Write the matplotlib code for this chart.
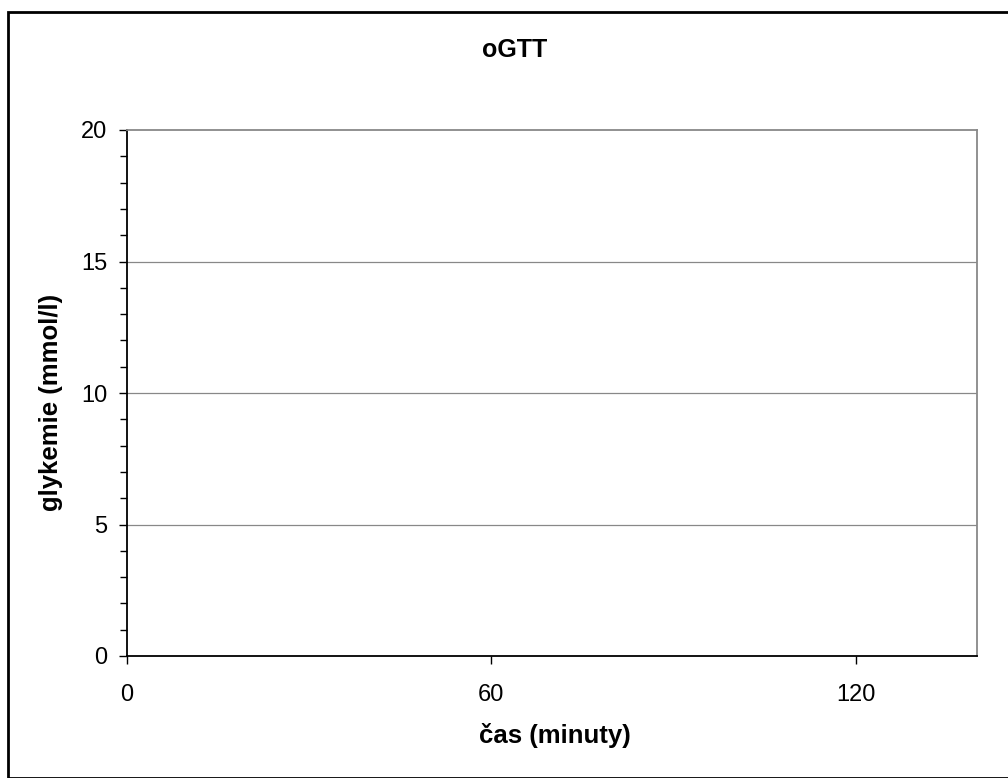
import matplotlib
matplotlib.use("Agg")
import matplotlib.pyplot as plt
from matplotlib.patches import Rectangle
from matplotlib.ticker import MultipleLocator

plt.rcParams['font.family'] = ['Liberation Sans', 'DejaVu Sans']

# empty chart: only the axes ranges and tick values
title = "oGTT"
x_label = "čas (minuty)"
y_label = "glykemie (mmol/l)"
x_ticks = [0, 60, 120]
x_limits = [0, 140]
y_ticks = [0, 5, 10, 15, 20]
y_limits = [0, 20]

W, H = 1008, 778
fig = plt.figure(figsize=(W / 100, H / 100), dpi=100)
ax = fig.add_axes([127 / W, 1 - 656 / H, 850 / W, 526 / H])

ax.set_xlim(x_limits)
ax.set_ylim(y_limits)
ax.set_xticks(x_ticks)
ax.set_yticks(y_ticks)
ax.yaxis.set_minor_locator(MultipleLocator(1))

for v in y_ticks[1:-1]:
    ax.axhline(v, color="#888888", linewidth=0.9, zorder=0)

ax.spines['left'].set_color('black')
ax.spines['bottom'].set_color('black')
ax.spines['left'].set_linewidth(1.3)
ax.spines['bottom'].set_linewidth(1.3)
ax.spines['top'].set_color('#888888')
ax.spines['right'].set_color('#888888')
ax.spines['top'].set_linewidth(1.3)
ax.spines['right'].set_linewidth(1.3)

ax.tick_params(axis='both', which='major', length=6, width=1, labelsize=17, direction='out')
ax.tick_params(axis='y', which='minor', length=5, width=1, direction='out')
ax.tick_params(axis='x', pad=14)
ax.tick_params(axis='y', pad=8)

# titles placed in figure coords
fig.text(515 / W, 1 - 50 / H, title, fontsize=18, fontweight='bold',
         ha='center', va='center')
fig.text(555 / W, 1 - 735 / H, x_label, fontsize=18.5, fontweight='bold',
         ha='center', va='center')
fig.text(51 / W, 1 - 402 / H, y_label, fontsize=18.5, fontweight='bold',
         ha='center', va='center', rotation=90)

# outer frame of the chart area
fig.patches.append(Rectangle((8 / W, 0), 1.2, 1 - 12 / H, transform=fig.transFigure,
                             fill=False, edgecolor='black', linewidth=2))

fig.savefig("out.png", dpi=100)
